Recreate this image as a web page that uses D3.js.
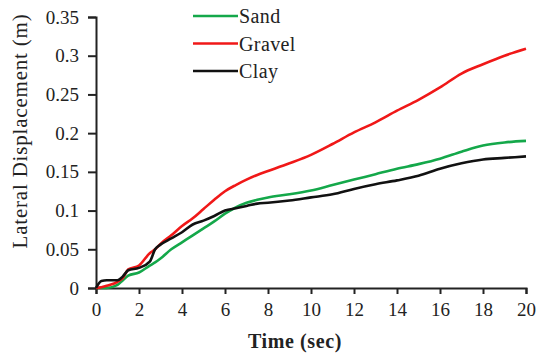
<!DOCTYPE html>
<html>
<head>
<meta charset="utf-8">
<script src="https://cdn.jsdelivr.net/npm/d3@7"></script>
<style>
  body { margin: 0; background: #fff; }
  text { font-family: "Liberation Serif", "Times New Roman", serif; fill: #222; }
</style>
</head>
<body>
<div id="chart"></div>
<script>
const times  = [0, 0.25, 0.5, 1, 1.25, 1.5, 2, 2.5, 2.75, 3, 3.5, 4, 4.5, 5, 5.5, 6, 6.5, 7, 7.5, 8, 9, 10, 11, 12, 13, 14, 15, 16, 17, 18, 19, 20];
const sand   = [0, 0, 0, 0.004, 0.01, 0.016, 0.02, 0.029, 0.033, 0.038, 0.05, 0.059, 0.068, 0.077, 0.086, 0.096, 0.104, 0.11, 0.114, 0.117, 0.121, 0.126, 0.133, 0.14, 0.147, 0.154, 0.16, 0.167, 0.176, 0.184, 0.188, 0.19];
const gravel = [0, 0.001, 0.003, 0.008, 0.013, 0.024, 0.029, 0.045, 0.05, 0.057, 0.068, 0.08, 0.09, 0.102, 0.114, 0.125, 0.133, 0.14, 0.146, 0.151, 0.161, 0.172, 0.186, 0.201, 0.214, 0.229, 0.243, 0.259, 0.277, 0.289, 0.3, 0.309];
const clay   = [0, 0.009, 0.01, 0.01, 0.015, 0.023, 0.026, 0.034, 0.05, 0.056, 0.064, 0.072, 0.082, 0.087, 0.093, 0.1, 0.103, 0.106, 0.109, 0.11, 0.113, 0.117, 0.121, 0.128, 0.134, 0.139, 0.145, 0.154, 0.161, 0.166, 0.168, 0.17];
const xTicks = [0, 2, 4, 6, 8, 10, 12, 14, 16, 18, 20];
const yTicks = [0, 0.05, 0.1, 0.15, 0.2, 0.25, 0.3, 0.35];

const series = [
  {name: 'Sand', values: sand, color: '#14a84a'},
  {name: 'Gravel', values: gravel, color: '#f01818'},
  {name: 'Clay', values: clay, color: '#111'}
];

const margin = {top: 17, right: 10, bottom: 68, left: 96};
const width = 536 - margin.left - margin.right;
const height = 356 - margin.top - margin.bottom;

const svg = d3.select('#chart')
  .append('svg')
  .attr('width', 536)
  .attr('height', 356)
  .append('g')
  .attr('transform', `translate(${margin.left}, ${margin.top})`);

const x = d3.scaleLinear().domain([0, 20]).range([0, width]);
const y = d3.scaleLinear().domain([0, 0.35]).range([height, 0]);

const xAxis = g => g
  .attr('transform', `translate(0, ${height})`)
  .call(d3.axisBottom(x).tickValues(xTicks).tickSize(6).tickPadding(9).tickFormat(d3.format('d')));
const yAxis = g => g
  .call(d3.axisLeft(y).tickValues(yTicks).tickSize(8).tickPadding(9).tickFormat(d => d === 0 ? '0' : String(+d.toFixed(2))));

svg.append('g').attr('class', 'axis').call(xAxis);
svg.append('g').attr('class', 'axis').call(yAxis);

svg.selectAll('.axis path, .axis line')
  .attr('stroke', '#222')
  .attr('stroke-width', 2);
svg.selectAll('.axis text')
  .attr('font-size', 19)
  .attr('font-family', '"Liberation Serif", serif')
  .attr('fill', '#222');

const line = d3.line()
  .x((d, i) => x(times[i]))
  .y(d => y(d))
  .curve(d3.curveMonotoneX);

svg.selectAll('.series')
  .data(series)
  .join('path')
  .attr('class', 'series')
  .attr('fill', 'none')
  .attr('stroke', d => d.color)
  .attr('stroke-width', 2.6)
  .attr('d', d => line(d.values));

// legend
const legend = svg.append('g')
  .attr('transform', `translate(${193 - margin.left}, ${16 - margin.top})`);
const item = legend.selectAll('g')
  .data(series)
  .join('g')
  .attr('transform', (d, i) => `translate(0, ${i * 27.5})`);
item.append('line')
  .attr('x1', 0).attr('x2', 45)
  .attr('stroke', d => d.color)
  .attr('stroke-width', 2.6);
item.append('text')
  .attr('x', 46)
  .attr('dy', '0.35em')
  .attr('font-size', 20)
  .attr('letter-spacing', 0.4)
  .text(d => d.name);

svg.append('text')
  .attr('x', width / 2 - 16)
  .attr('y', height + 60)
  .attr('text-anchor', 'middle')
  .attr('font-size', 20)
  .attr('font-weight', 'bold')
  .attr('letter-spacing', 0.6)
  .text('Time (sec)');

svg.append('text')
  .attr('transform', `translate(${20 - margin.left}, ${131 - margin.top}) rotate(-90)`)
  .attr('text-anchor', 'middle')
  .attr('dy', '0.35em')
  .attr('font-size', 21)
  .attr('letter-spacing', 0.8)
  .text('Lateral Displacement (m)');
</script>
</body>
</html>
